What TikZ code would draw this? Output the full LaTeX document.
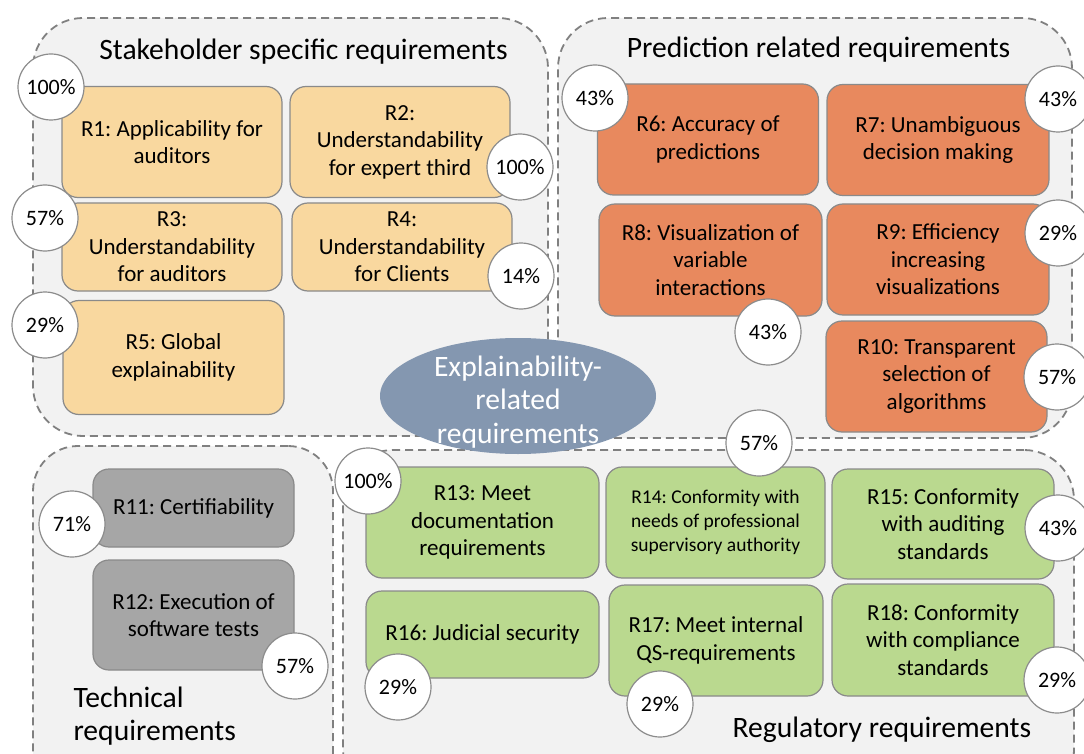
\documentclass[tikz,border=0pt]{standalone}
\usepackage{fontspec}
\setmainfont{Carlito}
\usetikzlibrary{shapes.geometric}
\frenchspacing

\definecolor{groupfill}{HTML}{F2F2F2}
\definecolor{groupline}{HTML}{808080}
\definecolor{boxline}{HTML}{8A8A8A}
\definecolor{stakefill}{HTML}{F9D89F}
\definecolor{predfill}{HTML}{E8895E}
\definecolor{techfill}{HTML}{A6A6A6}
\definecolor{regfill}{HTML}{BAD98F}
\definecolor{corefill}{HTML}{8497B0}
\definecolor{ringline}{HTML}{8C8C8C}

\begin{document}
\begin{tikzpicture}[x=1pt,y=-1pt,
  group/.style={draw=groupline, fill=groupfill, line width=1.8pt,
    dash pattern=on 8pt off 5pt, rounded corners=50pt, inner sep=0pt},
  reqbox/.style={draw=boxline, line width=1.2pt, rounded corners=16pt,
    inner sep=0pt, align=center, font=\fontsize{23}{27.5}\selectfont},
  share/.style={circle, draw=ringline, fill=white, line width=1.2pt,
    minimum size=66pt, inner sep=0pt, font=\fontsize{22}{25}\selectfont},
  title/.style={anchor=base, font=\fontsize{29.6}{33}\selectfont},
]
\useasboundingbox (0,0) rectangle (1084,754);
\clip (0,0) rectangle (1084,754);

% category frames
\node[group, minimum width=515pt, minimum height=418pt] (stake) at (290.5,227) {};
\node[group, minimum width=514pt, minimum height=420pt] (pred) at (815,228) {};
\node[group, rounded corners=45pt, minimum width=300pt, minimum height=354pt] (tech) at (183,623) {};
\node[group, minimum width=731pt, minimum height=350pt] (reg) at (708.5,625) {};

% category titles
\node[title] (stakeT) at (303.5,60) {Stakeholder specific requirements};
\node[title] (predT) at (818.5,58) {Prediction related requirements};
\node[anchor=base west, align=left, font=\fontsize{29.6}{33}\selectfont] (techT) at (70,740)
  {Technical\\requirements};
\node[anchor=base west, font=\fontsize{29.6}{33}\selectfont] (regT) at (729,737) {Regulatory requirements};

% central topic
\node[ellipse, fill=corefill, minimum width=276pt, minimum height=116pt, inner sep=0pt] (core) at (518,396) {};
\node[text=white, align=center, inner sep=0pt, font=\fontsize{29.6}{33.5}\selectfont] (coreT) at (518,402)
  {Explainability-\\related\\requirements};

% stakeholder specific requirements
\node[reqbox, fill=stakefill, minimum width=220pt, minimum height=111pt] (r1) at (172,142) {R1: Applicability for\\auditors};
\node[reqbox, fill=stakefill, minimum width=220pt, minimum height=111pt] (r2) at (400,142) {R2:\\Understandability\\for expert third};
\node[reqbox, fill=stakefill, minimum width=220pt, minimum height=88pt] (r3) at (172,247) {R3:\\Understandability\\for auditors};
\node[reqbox, fill=stakefill, minimum width=220pt, minimum height=88pt] (r4) at (402,247) {R4:\\Understandability\\for Clients};
\node[reqbox, fill=stakefill, minimum width=221pt, minimum height=114pt] (r5) at (173.5,357.5) {R5: Global\\explainability};

% prediction related requirements
\node[reqbox, fill=predfill, minimum width=221pt, minimum height=111pt] (r6) at (708,139.5) {R6: Accuracy of\\predictions};
\node[reqbox, fill=predfill, minimum width=222pt, minimum height=111pt] (r7) at (938,140) {R7: Unambiguous\\decision making};
\node[reqbox, fill=predfill, minimum width=223pt, minimum height=112pt] (r8) at (710.5,260) {R8: Visualization of\\variable\\interactions};
\node[reqbox, fill=predfill, minimum width=222pt, minimum height=111pt] (r9) at (938,259.5) {R9: Efficiency\\increasing\\visualizations};
\node[reqbox, fill=predfill, minimum width=221pt, minimum height=111pt] (r10) at (936.5,376.5) {R10: Transparent\\selection of\\algorithms};

% technical requirements
\node[reqbox, fill=techfill, minimum width=201pt, minimum height=78pt] (r11) at (193.5,508) {R11: Certifiability};
\node[reqbox, fill=techfill, minimum width=201pt, minimum height=110pt] (r12) at (193.5,615) {R12: Execution of\\software tests};

% regulatory requirements
\node[reqbox, fill=regfill, minimum width=233pt, minimum height=111pt] (r13) at (482.5,522.5) {R13: Meet\\documentation\\requirements};
\node[reqbox, fill=regfill, minimum width=219pt, minimum height=111pt,
  font=\fontsize{19.5}{24}\selectfont] (r14) at (715.5,522.5) {R14: Conformity with\\needs of professional\\supervisory authority};
\node[reqbox, fill=regfill, minimum width=222pt, minimum height=110pt] (r15) at (943,524) {R15: Conformity\\with auditing\\standards};
\node[reqbox, fill=regfill, minimum width=233pt, minimum height=87pt] (r16) at (482.5,634.5) {R16: Judicial security};
\node[reqbox, fill=regfill, minimum width=214pt, minimum height=111pt] (r17) at (716,640.5) {R17: Meet internal\\QS-requirements};
\node[reqbox, fill=regfill, minimum width=222pt, minimum height=112pt] (r18) at (943,640) {R18: Conformity\\with compliance\\standards};

% shares of interviewees naming each requirement
\node[share] (p1) at (51,87) {100\%};
\node[share] (p2) at (520,167) {100\%};
\node[share] (p3) at (45,218) {57\%};
\node[share] (p4) at (521,276) {14\%};
\node[share] (p5) at (45,325) {29\%};
\node[share] (p6) at (595,98) {43\%};
\node[share] (p7) at (1058,99) {43\%};
\node[share] (p8) at (768,332) {43\%};
\node[share] (p9) at (1058,233) {29\%};
\node[share] (p10) at (1057,377) {57\%};
\node[share] (p11) at (72,524) {71\%};
\node[share] (p12) at (295,666) {57\%};
\node[share] (p13) at (368,481) {100\%};
\node[share] (p14) at (759,443) {57\%};
\node[share] (p15) at (1058,528) {43\%};
\node[share] (p16) at (398,687) {29\%};
\node[share] (p17) at (660,704) {29\%};
\node[share] (p18) at (1057,680) {29\%};
\end{tikzpicture}
\end{document}
